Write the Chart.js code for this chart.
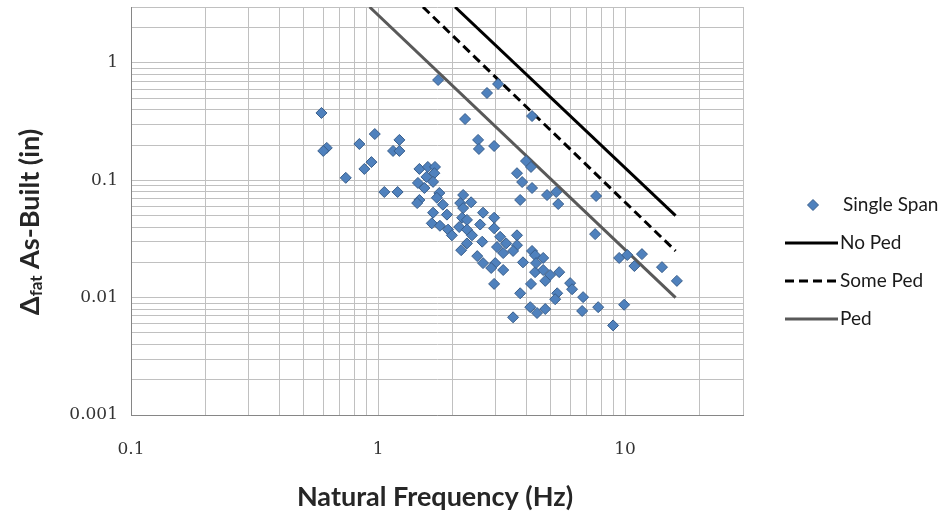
<!DOCTYPE html>
<html lang="en">
<head>
    <meta charset="UTF-8">
    <title>Deflection vs Natural Frequency</title>
    <script src="https://cdn.jsdelivr.net/npm/chart.js"></script>
    <style>
        body {
            margin: 0;
            background-color: #fff;
        }
        .chart-container {
            width: 946px;
            height: 514px;
        }
    </style>
</head>
<body>
    <div class="chart-container">
        <canvas id="deflChart"></canvas>
    </div>

    <script>
        // single span bridges: natural frequency (Hz) vs deflection (in)
        const spanFreq = [
            0.59, 0.62, 0.60, 0.74, 0.84, 0.97, 0.94, 0.88, 1.22, 1.15,
            1.22, 1.06, 1.20, 1.75, 3.06, 2.76, 4.20, 2.25, 2.54, 2.56,
            2.95, 3.97, 4.16, 3.65, 3.83, 4.20, 4.83, 5.26, 7.63, 5.36,
            7.56, 9.46, 10.2, 11.7, 10.9, 14.1, 16.2, 5.41, 5.99, 6.10,
            5.31, 5.21, 6.76, 7.78, 6.70, 9.91, 8.94, 1.47, 1.59, 1.70,
            1.69, 1.57, 1.45, 1.67, 1.54, 1.47, 1.44, 1.77, 1.73, 1.83,
            2.21, 2.15, 2.38, 2.21, 2.66, 1.67, 1.90, 2.19, 2.29, 1.65,
            1.78, 1.92, 1.99, 2.13, 2.29, 2.59, 2.40, 2.64, 3.76, 2.95,
            2.95, 2.29, 3.12, 3.65, 3.03, 3.30, 3.65, 3.52, 3.21, 2.52,
            4.20, 4.32, 4.66, 3.86, 2.66, 2.98, 2.87, 3.21, 4.32, 4.66,
            4.97, 4.75, 2.95, 4.16, 3.76, 4.13, 4.40, 4.75, 3.52, 2.17,
            4.36
        ];
        const spanDefl = [
            0.375, 0.189, 0.178, 0.105, 0.204, 0.248, 0.143, 0.125, 0.221, 0.178,
            0.178, 0.0795, 0.0795, 0.716, 0.662, 0.555, 0.353, 0.333, 0.221, 0.185,
            0.196, 0.146, 0.130, 0.115, 0.0967, 0.086, 0.0749, 0.0795, 0.0735, 0.0628,
            0.0348, 0.0218, 0.0231, 0.0235, 0.0186, 0.0182, 0.0139, 0.0165, 0.0133, 0.0118,
            0.0109, 0.0097, 0.0101, 0.0083, 0.0077, 0.0087, 0.0058, 0.125, 0.130, 0.130,
            0.115, 0.107, 0.095, 0.097, 0.086, 0.068, 0.064, 0.078, 0.071, 0.062,
            0.075, 0.064, 0.065, 0.058, 0.053, 0.053, 0.051, 0.048, 0.046, 0.043,
            0.041, 0.038, 0.034, 0.040, 0.038, 0.042, 0.034, 0.030, 0.068, 0.048,
            0.039, 0.029, 0.033, 0.034, 0.027, 0.029, 0.028, 0.025, 0.024, 0.0226,
            0.025, 0.023, 0.0218, 0.020, 0.0197, 0.0197, 0.0179, 0.0172, 0.0165, 0.0172,
            0.0156, 0.0139, 0.0131, 0.0131, 0.0109, 0.0083, 0.0074, 0.0080, 0.0068, 0.0254,
            0.0197
        ];

        // limit lines (two end points each)
        const noPedFreq = [2.05, 16];
        const noPedDefl = [3, 0.05];
        const somePedFreq = [1.52, 16];
        const somePedDefl = [3, 0.025];
        const pedFreq = [0.924, 16];
        const pedDefl = [3, 0.01];

        // gridlines / tick labels
        const xTickVals = [0.1, 0.2, 0.3, 0.4, 0.5, 0.6, 0.7, 0.8, 0.9,
                           1, 2, 3, 4, 5, 6, 7, 8, 9, 10, 20, 30];
        const xLabelVals = [0.1, 1, 10];
        const yTickVals = [0.001, 0.002, 0.003, 0.004, 0.005, 0.006, 0.007, 0.008, 0.009,
                           0.01, 0.02, 0.03, 0.04, 0.05, 0.06, 0.07, 0.08, 0.09,
                           0.1, 0.2, 0.3, 0.4, 0.5, 0.6, 0.7, 0.8, 0.9, 1, 2, 3];
        const yLabelVals = [0.001, 0.01, 0.1, 1];

        function toPoints(xs, ys) {
            return xs.map((x, i) => ({ x: x, y: ys[i] }));
        }

        const tickFont = { family: 'DejaVu Serif', size: 17 };

        // legend + axis titles drawn by hand (subscript in the y title)
        const extrasPlugin = {
            id: 'extras',
            afterDraw(chart) {
                const ctx = chart.ctx;
                ctx.save();
                ctx.fillStyle = '#262626';
                ctx.textBaseline = 'middle';

                // x title
                ctx.font = 'bold 27px Lato';
                ctx.textAlign = 'center';
                ctx.fillText('Natural Frequency (Hz)', 435, 497);

                // y title
                ctx.save();
                ctx.translate(30, 222);
                ctx.rotate(-Math.PI / 2);
                ctx.textAlign = 'left';
                const mainFont = 'bold 27px Lato';
                const subFont = 'bold 17px Lato';
                ctx.font = mainFont;
                const wDelta = ctx.measureText('\u0394').width;
                const wRest = ctx.measureText(' As-Built (in)').width;
                ctx.font = subFont;
                const wSub = ctx.measureText('fat').width;
                let x = -(wDelta + wSub + wRest) / 2;
                ctx.font = mainFont;
                ctx.fillText('\u0394', x, 0);
                x += wDelta;
                ctx.font = subFont;
                ctx.fillText('fat', x, 7);
                x += wSub;
                ctx.font = mainFont;
                ctx.fillText(' As-Built (in)', x, 0);
                ctx.restore();

                // legend
                const rowY = 205, rowGap = 38;
                chart.data.datasets.forEach((ds, i) => {
                    const y = rowY + i * rowGap;
                    if (ds.showLine) {
                        ctx.beginPath();
                        ctx.setLineDash(ds.borderDash || []);
                        ctx.lineWidth = ds.borderWidth;
                        ctx.strokeStyle = ds.borderColor;
                        ctx.moveTo(785, y);
                        ctx.lineTo(838, y);
                        ctx.stroke();
                        ctx.setLineDash([]);
                    } else {
                        const r = 5.5;
                        ctx.beginPath();
                        ctx.moveTo(813, y - r);
                        ctx.lineTo(813 + r, y);
                        ctx.lineTo(813, y + r);
                        ctx.lineTo(813 - r, y);
                        ctx.closePath();
                        ctx.fillStyle = ds.backgroundColor;
                        ctx.fill();
                        ctx.lineWidth = 1;
                        ctx.strokeStyle = ds.borderColor;
                        ctx.stroke();
                    }
                    ctx.fillStyle = '#1a1a1a';
                    ctx.font = '19px Lato';
                    ctx.textAlign = 'left';
                    ctx.fillText(ds.label, ds.showLine ? 840 : 843, y);
                });
                ctx.restore();
            }
        };

        const ctx = document.getElementById('deflChart').getContext('2d');
        new Chart(ctx, {
            type: 'scatter',
            data: {
                datasets: [{
                    label: 'Single Span',
                    data: toPoints(spanFreq, spanDefl),
                    pointStyle: 'rectRot',
                    pointRadius: 5.5,
                    backgroundColor: '#4F81BD',
                    borderColor: '#385D8A',
                    borderWidth: 1
                }, {
                    label: 'No Ped',
                    data: toPoints(noPedFreq, noPedDefl),
                    showLine: true,
                    pointRadius: 0,
                    borderColor: '#000000',
                    borderWidth: 3
                }, {
                    label: 'Some Ped',
                    data: toPoints(somePedFreq, somePedDefl),
                    showLine: true,
                    pointRadius: 0,
                    borderColor: '#000000',
                    borderWidth: 3,
                    borderDash: [9, 5]
                }, {
                    label: 'Ped',
                    data: toPoints(pedFreq, pedDefl),
                    showLine: true,
                    pointRadius: 0,
                    borderColor: '#595959',
                    borderWidth: 3
                }]
            },
            options: {
                responsive: true,
                maintainAspectRatio: false,
                animation: false,
                layout: { padding: { top: 7, right: 203, left: 0, bottom: 0 } },
                plugins: {
                    legend: { display: false },
                    tooltip: { enabled: false }
                },
                scales: {
                    x: {
                        type: 'logarithmic',
                        min: 0.1,
                        max: 30,
                        afterBuildTicks: s => { s.ticks = xTickVals.map(v => ({ value: v })); },
                        afterFit: s => { s.height = 99; s.paddingLeft = 0; s.paddingRight = 0; },
                        ticks: {
                            autoSkip: false,
                            maxRotation: 0,
                            padding: 24,
                            font: tickFont,
                            color: '#333',
                            callback: v => xLabelVals.includes(v) ? String(v) : ''
                        },
                        grid: { color: '#c0c0c0', drawTicks: false },
                        border: { color: '#868686' }
                    },
                    y: {
                        type: 'logarithmic',
                        min: 0.001,
                        max: 3,
                        afterBuildTicks: s => { s.ticks = yTickVals.map(v => ({ value: v })); },
                        afterFit: s => { s.width = 131; s.paddingTop = 0; s.paddingBottom = 0; },
                        ticks: {
                            autoSkip: false,
                            padding: 13,
                            font: tickFont,
                            color: '#333',
                            callback: v => yLabelVals.includes(v) ? String(v) : ''
                        },
                        grid: { color: '#c0c0c0', drawTicks: false },
                        border: { color: '#868686' }
                    }
                }
            },
            plugins: [extrasPlugin]
        });
    </script>
</body>
</html>
